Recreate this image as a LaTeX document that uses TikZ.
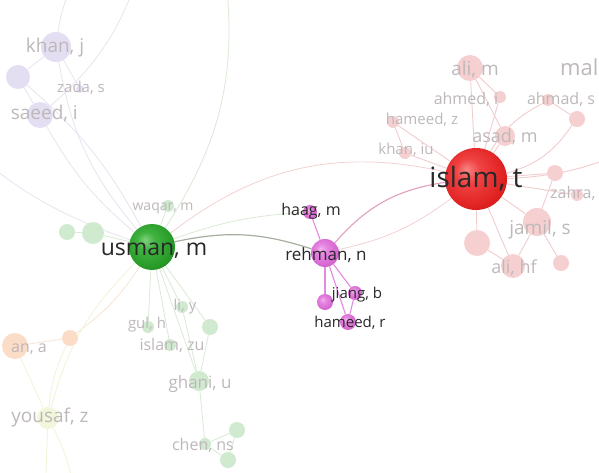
\documentclass[tikz,border=0pt]{standalone}
\usepackage{fontspec}
\setmainfont{Open Sans}
\usetikzlibrary{backgrounds}
\definecolor{islamred}{RGB}{232,40,40}
\definecolor{usmangreen}{RGB}{40,165,40}
\definecolor{rehmanpink}{RGB}{222,110,215}
\definecolor{redfaint}{RGB}{246,208,208}
\definecolor{purplefaint}{RGB}{228,222,242}
\definecolor{greenfaint}{RGB}{208,234,208}
\definecolor{orangefaint}{RGB}{251,220,198}
\definecolor{yellowfaint}{RGB}{242,246,218}
\definecolor{labeldark}{RGB}{40,40,40}
\definecolor{labelfaint}{RGB}{190,184,186}
% soft balls for the main authors
\pgfdeclareradialshading{redball}{\pgfpoint{-8bp}{8bp}}{rgb(0bp)=(0.97,0.52,0.52); rgb(10bp)=(0.94,0.26,0.26);
    rgb(26bp)=(0.88,0.13,0.13); rgb(38bp)=(0.76,0.07,0.07); rgb(50bp)=(0.60,0.04,0.04)}
\pgfdeclareradialshading{greenball}{\pgfpoint{-8bp}{8bp}}{rgb(0bp)=(0.50,0.82,0.50); rgb(10bp)=(0.25,0.70,0.25);
    rgb(26bp)=(0.15,0.60,0.15); rgb(38bp)=(0.10,0.48,0.10); rgb(50bp)=(0.06,0.38,0.06)}
\pgfdeclareradialshading{pinkball}{\pgfpoint{-8bp}{8bp}}{rgb(0bp)=(0.95,0.70,0.94); rgb(10bp)=(0.90,0.52,0.88);
    rgb(26bp)=(0.84,0.40,0.82); rgb(38bp)=(0.74,0.32,0.72); rgb(50bp)=(0.62,0.24,0.60)}

\begin{document}
\begin{tikzpicture}[x=1pt,y=-1pt,
    dot/.style={circle,inner sep=0pt,draw=none},
    lbl/.style={inner sep=0pt,anchor=base,text=labelfaint},
    mainlbl/.style={inner sep=0pt,anchor=base,text=labeldark},
    redlink/.style={draw={rgb,255:red,242;green,205;blue,205},line width=0.9pt},
    greenlink/.style={draw={rgb,255:red,218;green,234;blue,214},line width=0.8pt},
    purplelink/.style={draw={rgb,255:red,232;green,228;blue,240},line width=0.8pt},
    orangelink/.style={draw={rgb,255:red,248;green,228;blue,210},line width=0.8pt},
    yellowlink/.style={draw={rgb,255:red,242;green,244;blue,214},line width=0.8pt},
    pinklink/.style={draw=rehmanpink!80,line width=1.1pt}]
    \useasboundingbox (0,0) rectangle (599,473);

    % Faint nodes of the red cluster
    \foreach \nm/\x/\y/\r in {alim/470/68/13,ahmedi/500/97/6,ahmads/548/100/6,
        hameedz/393/122/6,asadm/505/136/10,khaniu/405/153/6,pa/577/119/8,
        pb/555/173/8,zahra/577/195/6,jamils/537/222/14,pc/477/243/13,
        alihf/513/266/12,pd/561/263/8}
        \node[dot,fill=redfaint,minimum size=2*\r] (\nm) at (\x,\y) {};

    % Purple, green, orange and yellow clusters
    \foreach \nm/\x/\y/\r in {khanj/56/47/15,pv/18/77/12,zadas/80/89/4,saeedi/40/115/13}
        \node[dot,fill=purplefaint,minimum size=2*\r] (\nm) at (\x,\y) {};
    \foreach \nm/\x/\y/\r in {waqarm/168/206/6,ga/67/232/8,gb/93/233/11,liy/182/307/6,
        gulh/148/327/6,gc/210/327/8,islamzu/170/345/6,ghaniu/199/381/10,
        chenns/205/444/6,gd/237/430/8,ge/228/460/8}
        \node[dot,fill=greenfaint,minimum size=2*\r] (\nm) at (\x,\y) {};
    \node[dot,fill=orangefaint,minimum size=16] (oa) at (70,338) {};
    \node[dot,fill=orangefaint,minimum size=26] (ana) at (15,346) {};
    \node[dot,fill=yellowfaint,minimum size=22] (yousafz) at (48,418) {};

    % Magenta cluster
    \foreach \nm/\x/\y/\r in {haagm/310/212/7,jiangb/355/293/7,mb/325/302/8,hameedr/348/322/8}
        \node[dot,shading=pinkball,minimum size=2*\r] (\nm) at (\x,\y) {};

    % Main authors
    \node[dot,shading=redball,minimum size=62] (islamt) at (476,179) {};
    \node[dot,shading=greenball,minimum size=46] (usmanm) at (152,247) {};
    \node[dot,shading=pinkball,minimum size=28] (rehmann) at (325,253) {};

    % Free ends of links that leave the picture
    \coordinate (topa) at (80,-30);
    \coordinate (topb) at (140,-30);
    \coordinate (topc) at (225,-30);
    \coordinate (lefta) at (-30,150);
    \coordinate (bota) at (45,500);
    \coordinate (botb) at (75,500);
    \coordinate (righta) at (630,150);

    % Labels
    \foreach \nm/\x/\y/\s/\t in {alim-l/475/76/19/{ali, m},ahmedi-l/466/105/16/{ahmed, i},
        ahmads-l/561/105/16/{ahmad, s},hameedz-l/422/125/15/{hameed, z},
        asadm-l/505/143/18/{asad, m},khaniu-l/406/155/15/{khan, iu},
        jamils-l/540/234/19/{jamil, s},alihf-l/514/273/18/{ali, hf},
        khanj-l/55/53/19/{khan, j},zadas-l/81/93/15/{zada, s},
        waqarm-l/163/210/14/{waqar, m},liy-l/185/310/15/{li, y},gulh-l/147/328/15/{gul, h},
        islamzu-l/172/350/16/{islam, zu},ghaniu-l/200/388/17/{ghani, u},
        chenns-l/203/450/16/{chen, ns},ana-l/29/352/16/{an, a},yousafz-l/50/422/19/{yousaf, z}}
        \node[lbl,font=\fontsize{\s}{\s}\selectfont] (\nm) at (\x,\y) {\t};
    \node[lbl,anchor=base west,font=\fontsize{22}{22}\selectfont] (mal-l) at (560,76) {mal};
    \node[lbl,anchor=base west,font=\fontsize{16}{16}\selectfont] (zahra-l) at (550,198) {zahra,};
    \node[lbl,anchor=base east,font=\fontsize{19}{19}\selectfont] (saeedi-l) at (78,120) {saeed, i};
    \foreach \nm/\x/\y/\s/\t in {rehmann-l/326/260/17/{rehman, n},haagm-l/311/215/16/{haag, m},
        jiangb-l/357/298/15/{jiang, b},hameedr-l/350/327/15/{hameed, r}}
        \node[mainlbl,font=\fontsize{\s}{\s}\selectfont] (\nm) at (\x,\y) {\t};
    \node[mainlbl,font=\fontsize{28}{28}\selectfont] (islamt-l) at (476,187) {islam, t};
    \node[mainlbl,font=\fontsize{23}{23}\selectfont] (usmanm-l) at (154,255) {usman, m};

    \begin{scope}[on background layer]
        \fill[white] (0,0) rectangle (599,473);

        % Links of the red cluster
        \foreach \a in {alim,ahmedi,hameedz,asadm,khaniu,pb,zahra,jamils,pc,alihf}
            \draw[redlink] (islamt) -- (\a);
        \draw[redlink] (islamt) to[bend right=20] (pa);
        \draw[redlink] (islamt) to[bend left=15] (ahmads);
        \draw[redlink] (islamt) to[bend right=10] (righta);
        \draw[redlink] (alim) -- (ahmedi);
        \draw[redlink] (hameedz) -- (khaniu);
        \draw[redlink] (asadm) -- (alim);
        \draw[redlink] (pa) -- (ahmads);
        \draw[redlink] (jamils) -- (alihf);
        \draw[redlink] (jamils) -- (pd);
        \draw[redlink] (jamils) -- (pb);
        \draw[redlink] (pc) -- (alihf);

        % Links between the clusters
        \draw[redlink,line width=0.7pt] (usmanm) to[bend left=25] (islamt);
        \draw[redlink,line width=0.7pt] (rehmann) to[bend right=12] (islamt);
        \draw[greenlink] (usmanm) to[bend left=8] (haagm);
        \draw[draw={rgb,255:red,165;green,175;blue,160},line width=1.2pt] (usmanm) to[bend left=15] (rehmann);
        \draw[draw={rgb,255:red,225;green,160;blue,192},line width=1.1pt] (rehmann) to[bend left=20] (islamt);

        % Magenta cluster
        \foreach \a in {haagm,jiangb,mb,hameedr}
            \draw[pinklink] (rehmann) -- (\a);
        \draw[pinklink] (jiangb) -- (hameedr);

        % Green cluster
        \foreach \a in {waqarm,liy,gulh,islamzu,gc,ghaniu,gb}
            \draw[greenlink] (usmanm) -- (\a);
        \draw[greenlink] (gb) -- (ga);
        \draw[greenlink] (gc) -- (ghaniu);
        \draw[greenlink] (liy) -- (ghaniu);
        \draw[greenlink] (ghaniu) -- (chenns);
        \draw[greenlink] (chenns) -- (gd);
        \draw[greenlink] (chenns) -- (ge);
        \draw[greenlink] (gd) -- (ge);
        \draw[greenlink] (usmanm) to[bend right=20] (topc);

        % Purple cluster
        \draw[purplelink] (usmanm) to[bend left=15] (khanj);
        \draw[purplelink] (usmanm) to[bend left=10] (saeedi);
        \draw[purplelink] (usmanm) to[bend right=10] (pv);
        \draw[purplelink] (khanj) -- (pv);
        \draw[purplelink] (pv) -- (saeedi);
        \draw[purplelink] (khanj) -- (zadas);
        \draw[purplelink] (khanj) to[bend left=10] (topa);
        \draw[purplelink] (saeedi) to[bend right=15] (topb);
        \draw[purplelink] (usmanm) to[bend left=10] (lefta);

        % Orange and yellow clusters
        \draw[orangelink] (usmanm) to[bend left=10] (oa);
        \draw[orangelink] (oa) -- (ana);
        \draw[yellowlink] (usmanm) to[bend right=15] (yousafz);
        \draw[yellowlink] (oa) to[bend right=10] (yousafz);
        \draw[yellowlink] (ana) -- (yousafz);
        \draw[yellowlink] (yousafz) -- (bota);
        \draw[yellowlink] (yousafz) to[bend left=10] (botb);
    \end{scope}
\end{tikzpicture}
\end{document}
